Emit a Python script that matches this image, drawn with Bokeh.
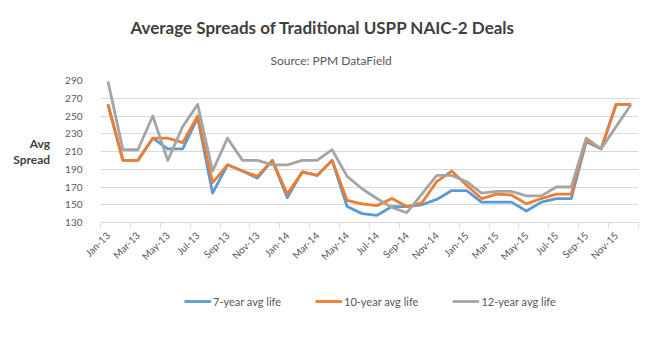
import math
from bokeh.plotting import figure
from bokeh.layouts import column
from bokeh.models import Range1d, FixedTicker, Legend, LegendItem, Title
from bokeh.embed import file_html
from bokeh.resources import INLINE

months = ["Jan-13", "Feb-13", "Mar-13", "Apr-13", "May-13", "Jun-13",
          "Jul-13", "Aug-13", "Sep-13", "Oct-13", "Nov-13", "Dec-13",
          "Jan-14", "Feb-14", "Mar-14", "Apr-14", "May-14", "Jun-14",
          "Jul-14", "Aug-14", "Sep-14", "Oct-14", "Nov-14", "Dec-14",
          "Jan-15", "Feb-15", "Mar-15", "Apr-15", "May-15", "Jun-15",
          "Jul-15", "Aug-15", "Sep-15", "Oct-15", "Nov-15", "Dec-15"]

spread_7yr = [263, 200, 200, 225, 213, 213, 248, 163, 195, 188, 180, 200,
              158, 187, 183, 200, 148, 140, 138, 148, 148, 150, 156, 166,
              166, 153, 153, 153, 143, 153, 157, 157, 221, 213, 263, 263]
spread_10yr = [263, 200, 200, 225, 225, 220, 250, 175, 195, 188, 182, 200,
               162, 187, 183, 200, 155, 151, 149, 157, 148, 152, 176, 188,
               172, 157, 162, 161, 151, 157, 162, 162, 223, 213, 263, 263]
spread_12yr = [289, 212, 212, 250, 200, 238, 263, 188, 225, 200, 200, 195,
               195, 200, 200, 212, 182, 168, 157, 147, 141, 162, 183, 183,
               176, 163, 165, 165, 160, 160, 170, 170, 225, 213, 238, 263]

series_names = ["7-year avg life", "10-year avg life", "12-year avg life"]
series_colors = ["#5B9BD5", "#ED7D31", "#A5A5A5"]
y_ticks = [130, 150, 170, 190, 210, 230, 250, 270, 290]
title_text = "Average Spreads of Traditional USPP NAIC-2 Deals"
subtitle_text = "Source: PPM DataField"
y_title = "Avg\nSpread"

FONT = "Lato"
x = list(range(len(months)))
all_series = [spread_7yr, spread_10yr, spread_12yr]

p = figure(width=654, height=275, output_backend="svg", toolbar_location=None,
           x_range=Range1d(-0.5, len(months) - 0.5),
           y_range=Range1d(y_ticks[0], y_ticks[-1]),
           min_border_left=100, min_border_right=16,
           min_border_top=80, min_border_bottom=53)
p.background_fill_color = "white"
p.border_fill_color = "white"
p.outline_line_color = None

# p.title is the outer (top) title; the added Title sits next to the frame
p.title.text = title_text
p.title.align = "left"
p.title.offset = 30
p.title.text_font = FONT
p.title.text_font_size = "17px"
p.title.text_font_style = "bold"
p.title.text_color = "#404040"
p.title.standoff = 0
p.add_layout(Title(text=subtitle_text, align="left", offset=170, text_font=FONT,
                   text_font_size="12px", text_font_style="normal",
                   text_color="#595959", standoff=26), "above")

p.xgrid.visible = False
p.ygrid.ticker = FixedTicker(ticks=y_ticks)
p.ygrid.grid_line_color = "#d9d9d9"
p.ygrid.grid_line_width = 1

p.yaxis.ticker = FixedTicker(ticks=y_ticks)
p.yaxis.axis_line_color = None
p.yaxis.major_tick_line_color = None
p.yaxis.minor_tick_line_color = None
p.yaxis.major_label_text_font = FONT
p.yaxis.major_label_text_font_size = "10px"
p.yaxis.major_label_text_color = "#595959"
p.yaxis.major_label_standoff = 12
p.yaxis.axis_label = y_title
p.yaxis.axis_label_orientation = "horizontal"
p.yaxis.axis_label_text_font = FONT
p.yaxis.axis_label_text_font_size = "12px"
p.yaxis.axis_label_text_font_style = "bold"
p.yaxis.axis_label_text_color = "#404040"
p.yaxis.axis_label_text_align = "center"
p.yaxis.axis_label_text_line_height = 1.1
p.yaxis.axis_label_standoff = 12

label_idx = list(range(0, len(months), 2))
p.xaxis.ticker = FixedTicker(ticks=label_idx,
                             minor_ticks=[i - 0.5 for i in range(0, len(months) + 1, 2)])
p.xaxis.major_label_overrides = {i: months[i] for i in label_idx}
p.xaxis.major_label_orientation = math.pi / 4
p.xaxis.major_tick_line_color = None
p.xaxis.major_tick_out = 0
p.xaxis.major_tick_in = 0
p.xaxis.minor_tick_line_color = "#d9d9d9"
p.xaxis.minor_tick_out = 5
p.xaxis.minor_tick_in = 0
p.xaxis.axis_line_color = "#d9d9d9"
p.xaxis.major_label_text_font = FONT
p.xaxis.major_label_text_font_size = "10px"
p.xaxis.major_label_text_color = "#595959"
p.xaxis.major_label_standoff = 6

for ys, c in zip(all_series, series_colors):
    p.line(x, ys, line_color=c, line_width=2.8, line_join="round")

# legend strip below the chart (its frame is aligned with the chart frame);
# its lines carry the same data but fall outside this strip's range
lg = figure(width=654, height=68, output_backend="svg", toolbar_location=None,
            x_range=Range1d(-0.5, len(months) - 0.5), y_range=Range1d(0, 1),
            x_axis_location=None, y_axis_location=None, min_border=0)
lg.background_fill_color = "white"
lg.border_fill_color = "white"
lg.outline_line_color = None
lg.grid.visible = False
items = []
for n, ys, c in zip(series_names, all_series, series_colors):
    r = lg.line(x, ys, line_color=c, line_width=2.8)
    items.append(LegendItem(label=n, renderers=[r]))
legend = Legend(items=items, orientation="horizontal", location=(84, 35),
                border_line_color=None, background_fill_alpha=0,
                label_text_font=FONT, label_text_font_size="11px",
                label_text_color="#595959", glyph_width=27, glyph_height=14,
                label_standoff=2, spacing=34, margin=0, padding=4)
lg.add_layout(legend, "center")

layout = column(p, lg, spacing=0)
open("out.html", "w").write(file_html(layout, INLINE))
